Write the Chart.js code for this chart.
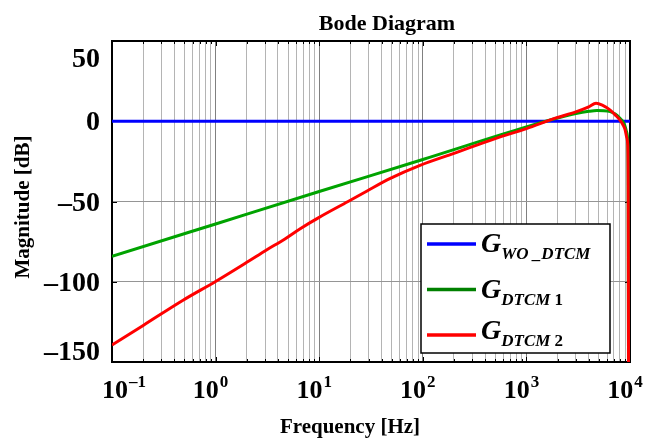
<!DOCTYPE html>
<html>
<head>
<meta charset="utf-8">
<title>Bode Diagram</title>
<script src="https://cdn.jsdelivr.net/npm/chart.js@4.4.1/dist/chart.umd.min.js"></script>
<style>
  html, body { margin: 0; padding: 0; background: #fff; }
</style>
</head>
<body>
<canvas id="bode" width="659" height="441"></canvas>
<script>
// values: frequency [Hz] -> magnitude [dB]
const freqWo = [0.1, 1, 10, 100, 1000, 10000];
const magWo = [0, 0, 0, 0, 0, 0];

const freqDtcm1 = [0.1, 1, 10, 100, 1000, 2000, 3000, 4000, 4800, 5600, 6440, 7200, 8040, 8600, 9000, 9300, 9500, 9600, 9700];
const magDtcm1 = [-84.2, -64, -43.8, -23.8, -3.5, 2.0, 4.8, 6.2, 6.7, 6.6, 6.0, 4.5, 1.7, -0.5, -3.5, -7, -12, -40, -200];

const freqDtcm2 = [0.1, 0.2, 0.485, 1, 2, 3.1, 4.67, 6.5, 9.8, 19, 28.7, 48, 94, 200, 500, 1000, 1900, 3000, 4000, 4700, 5400, 6440, 7200, 8040, 8600, 9000, 9300, 9500, 9600, 9700];
const magDtcm2 = [-139.4, -127.2, -111.5, -99.8, -87.9, -80.2, -73.3, -67.1, -60.2, -50, -43.6, -35.8, -27.5, -20, -10.8, -4.6, 1.9, 5.8, 8.9, 11.2, 10, 6.9, 4, 0.6, -2.5, -5.6, -10, -14, -40, -200];

// axis ticks
const xTickValues = [0.1, 1, 10, 100, 1000, 10000];
const xTickExps = ['\u20131', '0', '1', '2', '3', '4'];
const yTickValues = [-150, -100, -50, 0, 50];
const yTickLabels = ['\u2013150', '\u2013100', '\u201350', '0', '50'];

// legend text: G with a subscript (italic part, upright digit)
const legendSubs = [['WO _DTCM', ''], ['DTCM', '1'], ['DTCM', '2']];

const SERIF = '"Liberation Serif", "DejaVu Serif", serif';

function toPoints(xs, ys) {
    return xs.map((v, i) => ({x: v, y: ys[i]}));
}

const bodeDecor = {
    id: 'bodeDecor',
    beforeDatasetsDraw(chart) {
        const {ctx, chartArea: a, scales: {x, y}} = chart;
        ctx.save();
        ctx.strokeStyle = '#000';
        ctx.lineWidth = 1;
        // MATLAB style ticks, pointing inward
        ctx.beginPath();
        x.ticks.forEach(t => {
            const px = Math.round(x.getPixelForValue(t.value)) + 0.5;
            const len = t.major ? 5 : 3;
            ctx.moveTo(px, a.top); ctx.lineTo(px, a.top + len);
            ctx.moveTo(px, a.bottom); ctx.lineTo(px, a.bottom - len);
        });
        y.ticks.forEach(t => {
            const py = Math.round(y.getPixelForValue(t.value)) + 0.5;
            ctx.moveTo(a.left, py); ctx.lineTo(a.left + 5, py);
            ctx.moveTo(a.right, py); ctx.lineTo(a.right - 5, py);
        });
        ctx.stroke();
        ctx.lineWidth = 2;
        ctx.strokeRect(a.left, a.top, a.right - a.left, a.bottom - a.top);
        ctx.restore();
    },
    afterDraw(chart) {
        const {ctx, chartArea: a, scales: {x, y}} = chart;
        ctx.save();
        ctx.fillStyle = '#000';

        // y tick labels (the end ones sit a bit inward, as in the figure)
        ctx.font = 'bold 28px ' + SERIF;
        ctx.textAlign = 'right';
        ctx.textBaseline = 'middle';
        yTickValues.forEach((v, i) => {
            let py = y.getPixelForValue(v) + 2;
            if (i === 0) py -= 11;
            if (i === yTickValues.length - 1) py += 17;
            ctx.fillText(yTickLabels[i], a.left - 12, py);
        });

        // x tick labels 10^n
        ctx.textAlign = 'left';
        ctx.textBaseline = 'alphabetic';
        const baseFont = 'bold 26px ' + SERIF;
        const expFont = 'bold 17px ' + SERIF;
        xTickValues.forEach((v, i) => {
            ctx.font = baseFont;
            const wb = ctx.measureText('10').width;
            ctx.font = expFont;
            const we = ctx.measureText(xTickExps[i]).width;
            let cx = x.getPixelForValue(v) - 5;
            if (i === 0) cx += 17;
            const left = cx - (wb + we + 1) / 2;
            ctx.font = baseFont;
            ctx.fillText('10', left, a.bottom + 36);
            ctx.font = expFont;
            ctx.fillText(xTickExps[i], left + wb + 1, a.bottom + 25);
        });

        // titles
        ctx.textAlign = 'center';
        ctx.font = 'bold 22px ' + SERIF;
        ctx.fillText('Bode Diagram', 387, 30);
        ctx.font = 'bold 21px ' + SERIF;
        ctx.fillText('Frequency [Hz]', 350, 433);
        ctx.save();
        ctx.translate(29, 207);
        ctx.rotate(-Math.PI / 2);
        ctx.fillText('Magnitude [dB]', 0, 0);
        ctx.restore();

        // legend
        const box = {l: 421, t: 224, r: 610, b: 353};
        ctx.fillStyle = '#fff';
        ctx.fillRect(box.l, box.t, box.r - box.l, box.b - box.t);
        ctx.strokeStyle = '#000';
        ctx.lineWidth = 1.5;
        ctx.strokeRect(box.l, box.t, box.r - box.l, box.b - box.t);
        chart.data.datasets.forEach((ds, i) => {
            const ry = box.t + 20 + i * 45.5;
            ctx.strokeStyle = ds.legendColor;
            ctx.lineWidth = 3.5;
            ctx.beginPath();
            ctx.moveTo(box.l + 6, ry);
            ctx.lineTo(box.l + 55, ry);
            ctx.stroke();
            // the last row's text sits a little higher in the figure
            const ty = ry - (i === 2 ? 4 : 0);
            ctx.fillStyle = '#000';
            ctx.textAlign = 'left';
            ctx.font = 'italic bold 28px ' + SERIF;
            ctx.fillText('G', box.l + 60, ty + 8);
            let sx = box.l + 60 + ctx.measureText('G').width;
            ctx.font = 'italic bold 17px ' + SERIF;
            ctx.fillText(legendSubs[i][0], sx, ty + 15);
            sx += ctx.measureText(legendSubs[i][0] + ' ').width;
            ctx.font = 'bold 17px ' + SERIF;
            ctx.fillText(legendSubs[i][1], sx, ty + 15);
        });
        ctx.restore();
    }
};

const config = {
    type: 'line',
    data: {
        datasets: [
            {label: 'G_WO_DTCM', data: toPoints(freqWo, magWo), borderColor: '#0000ff', legendColor: '#0000ff', order: 3},
            {label: 'G_DTCM1', data: toPoints(freqDtcm1, magDtcm1), borderColor: '#00a300', legendColor: '#008000', order: 2},
            {label: 'G_DTCM2', data: toPoints(freqDtcm2, magDtcm2), borderColor: '#ff0000', legendColor: '#ff0000', order: 1}
        ]
    },
    options: {
        responsive: false,
        animation: false,
        layout: {padding: {left: 112, right: 29, top: 41, bottom: 79}},
        elements: {
            point: {radius: 0},
            line: {borderWidth: 3, cubicInterpolationMode: 'monotone', fill: false}
        },
        plugins: {legend: {display: false}, tooltip: {enabled: false}},
        scales: {
            x: {
                type: 'logarithmic',
                min: 0.1,
                max: 10000,
                border: {display: false},
                ticks: {display: false},
                grid: {
                    drawTicks: false,
                    color: ctx => ctx.tick && ctx.tick.major ? '#808080' : '#b4b4b4',
                    lineWidth: 1
                },
                afterBuildTicks: scale => {
                    const ticks = [];
                    for (let e = -1; e < 4; e++) {
                        for (let m = 1; m < 10; m++) {
                            ticks.push({value: m * Math.pow(10, e), major: m === 1});
                        }
                    }
                    ticks.push({value: 10000, major: true});
                    scale.ticks = ticks;
                }
            },
            y: {
                min: -150,
                max: 50,
                border: {display: false},
                ticks: {display: false, stepSize: 50},
                grid: {drawTicks: false, color: '#959595', lineWidth: 1}
            }
        }
    },
    plugins: [bodeDecor]
};

new Chart(document.getElementById('bode'), config);
</script>
</body>
</html>
